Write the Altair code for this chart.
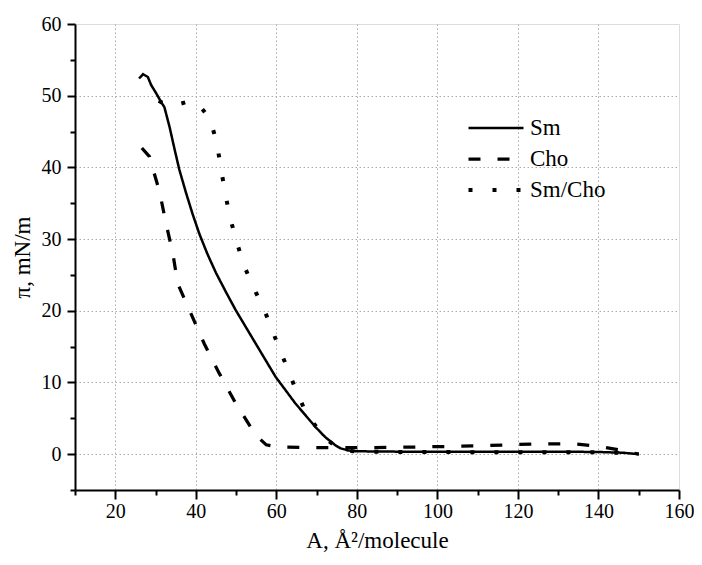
import altair as alt
import pandas as pd

# ---- data ----
series_names = ["Sm", "Cho", "Sm/Cho"]

A_sm = [25.9, 26.9, 28.1, 28.9, 30.2, 31.4, 32.2, 33.5, 34.7, 35.9, 37.6, 39.2, 40.9,
        42.9, 45.0, 47.5, 49.9, 54.9, 59.8, 64.7, 69.7, 72.1, 74.6, 76.0, 78.0, 80.0,
        90.0, 100.0, 110.0, 120.0, 130.0, 140.0, 146.0, 150.0]
pi_sm = [52.4, 53.0, 52.6, 51.5, 50.3, 49.1, 48.4, 45.6, 42.6, 39.7, 36.4, 33.5, 30.7,
         27.9, 25.3, 22.6, 20.1, 15.4, 10.8, 7.1, 3.8, 2.4, 1.26, 0.8, 0.5, 0.4,
         0.35, 0.35, 0.35, 0.35, 0.35, 0.3, 0.2, 0.0]

A_cho = [26.6, 28.5, 29.3, 31.0, 32.6, 34.3, 35.5, 38.8, 42.1, 45.8, 49.9, 54.9, 57.5,
         60.2, 70.0, 80.0, 90.0, 100.0, 110.0, 120.0, 128.0, 134.0, 140.0, 145.0, 150.0]
pi_cho = [42.7, 41.5, 39.9, 36.6, 32.2, 28.0, 23.8, 19.6, 15.4, 11.3, 7.1, 2.65, 1.3,
          1.0, 0.9, 0.9, 0.95, 1.05, 1.15, 1.35, 1.45, 1.45, 1.1, 0.6, 0.0]

A_mix = [30.8, 32.6, 35.1, 37.6, 40.5, 43.5, 45.2, 46.2, 47.3, 48.5, 50.2, 52.2, 54.9,
         57.3, 59.8, 62.3, 64.7, 67.4, 72.1, 76.0, 80.0, 90.0, 100.0, 110.0, 120.0,
         130.0, 140.0, 145.0, 150.0]
pi_mix = [49.3, 48.7, 48.7, 49.1, 48.9, 46.8, 43.5, 40.0, 36.4, 33.0, 29.5, 26.0, 22.6,
          19.7, 16.1, 12.6, 9.2, 5.7, 2.2, 0.6, 0.35, 0.3, 0.3, 0.25, 0.25,
          0.25, 0.25, 0.2, 0.0]

x_major_ticks = [20, 40, 60, 80, 100, 120, 140, 160]
x_minor_ticks = [10, 30, 50, 70, 90, 110, 130, 150]
y_major_ticks = [0, 10, 20, 30, 40, 50, 60]
y_minor_ticks = [-5, 5, 15, 25, 35, 45, 55]

rows = []
for name, xs, ys in zip(series_names, [A_sm, A_cho, A_mix], [pi_sm, pi_cho, pi_mix]):
    for a, p in zip(xs, ys):
        rows.append({"A": a, "pi": p, "series": name})
df = pd.DataFrame(rows)

FONT = "Liberation Serif"
x_scale = alt.Scale(domain=[10, 160], nice=False, zero=False)
y_scale = alt.Scale(domain=[-5, 60], nice=False, zero=False)

x_major = alt.Axis(
    values=x_major_ticks, orient="bottom", title="A, Å²/molecule",
    grid=True,
    gridOpacity={"condition": {"test": "datum.value >= 160", "value": 0}, "value": 1},
    gridColor="#aaaaaa", gridDash=[1.5, 2.5], gridWidth=1,
    tickSize=9, tickWidth=2, tickColor="black",
    domainColor="black", domainWidth=2,
    labelFont=FONT, labelFontSize=20, labelColor="black", labelPadding=2,
    labelFlush=False, labelOverlap=False,
    titleFont=FONT, titleFontSize=23, titleFontWeight="normal", titleColor="black",
    titlePadding=8,
)
y_major = alt.Axis(
    values=y_major_ticks, orient="left", title="π, mN/m",
    grid=True,
    gridOpacity={"condition": {"test": "datum.value >= 60", "value": 0}, "value": 1},
    gridColor="#aaaaaa", gridDash=[1.5, 2.5], gridWidth=1,
    tickSize=8, tickWidth=2, tickColor="black",
    domainColor="black", domainWidth=2,
    labelFont=FONT, labelFontSize=20, labelColor="black", labelPadding=6,
    labelFlush=False, labelOverlap=False,
    titleFont=FONT, titleFontSize=23, titleFontWeight="normal", titleColor="black",
    titlePadding=7,
)
x_minor = alt.Axis(values=x_minor_ticks, orient="bottom", title=None, labels=False,
                   grid=False, domain=False, tickSize=5, tickWidth=2, tickColor="black")
y_minor = alt.Axis(values=y_minor_ticks, orient="left", title=None, labels=False,
                   grid=False, domain=False, tickSize=5, tickWidth=2, tickColor="black")

lines = alt.Chart(df).mark_line(color="black", strokeCap="butt").encode(
    x=alt.X("A:Q", scale=x_scale, axis=x_major),
    y=alt.Y("pi:Q", scale=y_scale, axis=y_major),
    strokeDash=alt.StrokeDash(
        "series:N",
        scale=alt.Scale(domain=series_names, range=[[1, 0], [12, 17], [4, 20]]),
        legend=alt.Legend(
            title=None, orient="none", legendX=391.5, legendY=91.5,
            symbolType="stroke", symbolSize=3025, symbolStrokeWidth=3,
            symbolStrokeColor="black", symbolFillColor="black",
            labelFont=FONT, labelFontSize=23, labelColor="black", labelOffset=4.5,
            clipHeight=25, rowPadding=6,
        ),
    ),
    strokeWidth=alt.StrokeWidth(
        "series:N",
        scale=alt.Scale(domain=series_names, range=[2.5, 4, 3.5]),
        legend=None,
    ),
)

minor = alt.Chart(df).mark_point(opacity=0).encode(
    x=alt.X("A:Q", scale=x_scale, axis=x_minor),
    y=alt.Y("pi:Q", scale=y_scale, axis=y_minor),
)

chart = alt.layer(lines, minor).resolve_axis(x="independent", y="independent").properties(
    width=604, height=466,
    autosize=alt.AutoSizeParams(type="none"),
    padding={"left": 67, "top": 16, "right": 15, "bottom": 62},
).configure_view(stroke=None).configure(background="white").configure_axis(
    labelFont=FONT, titleFont=FONT
)

chart.save("out.html", embed_options={"renderer": "svg", "actions": False})
